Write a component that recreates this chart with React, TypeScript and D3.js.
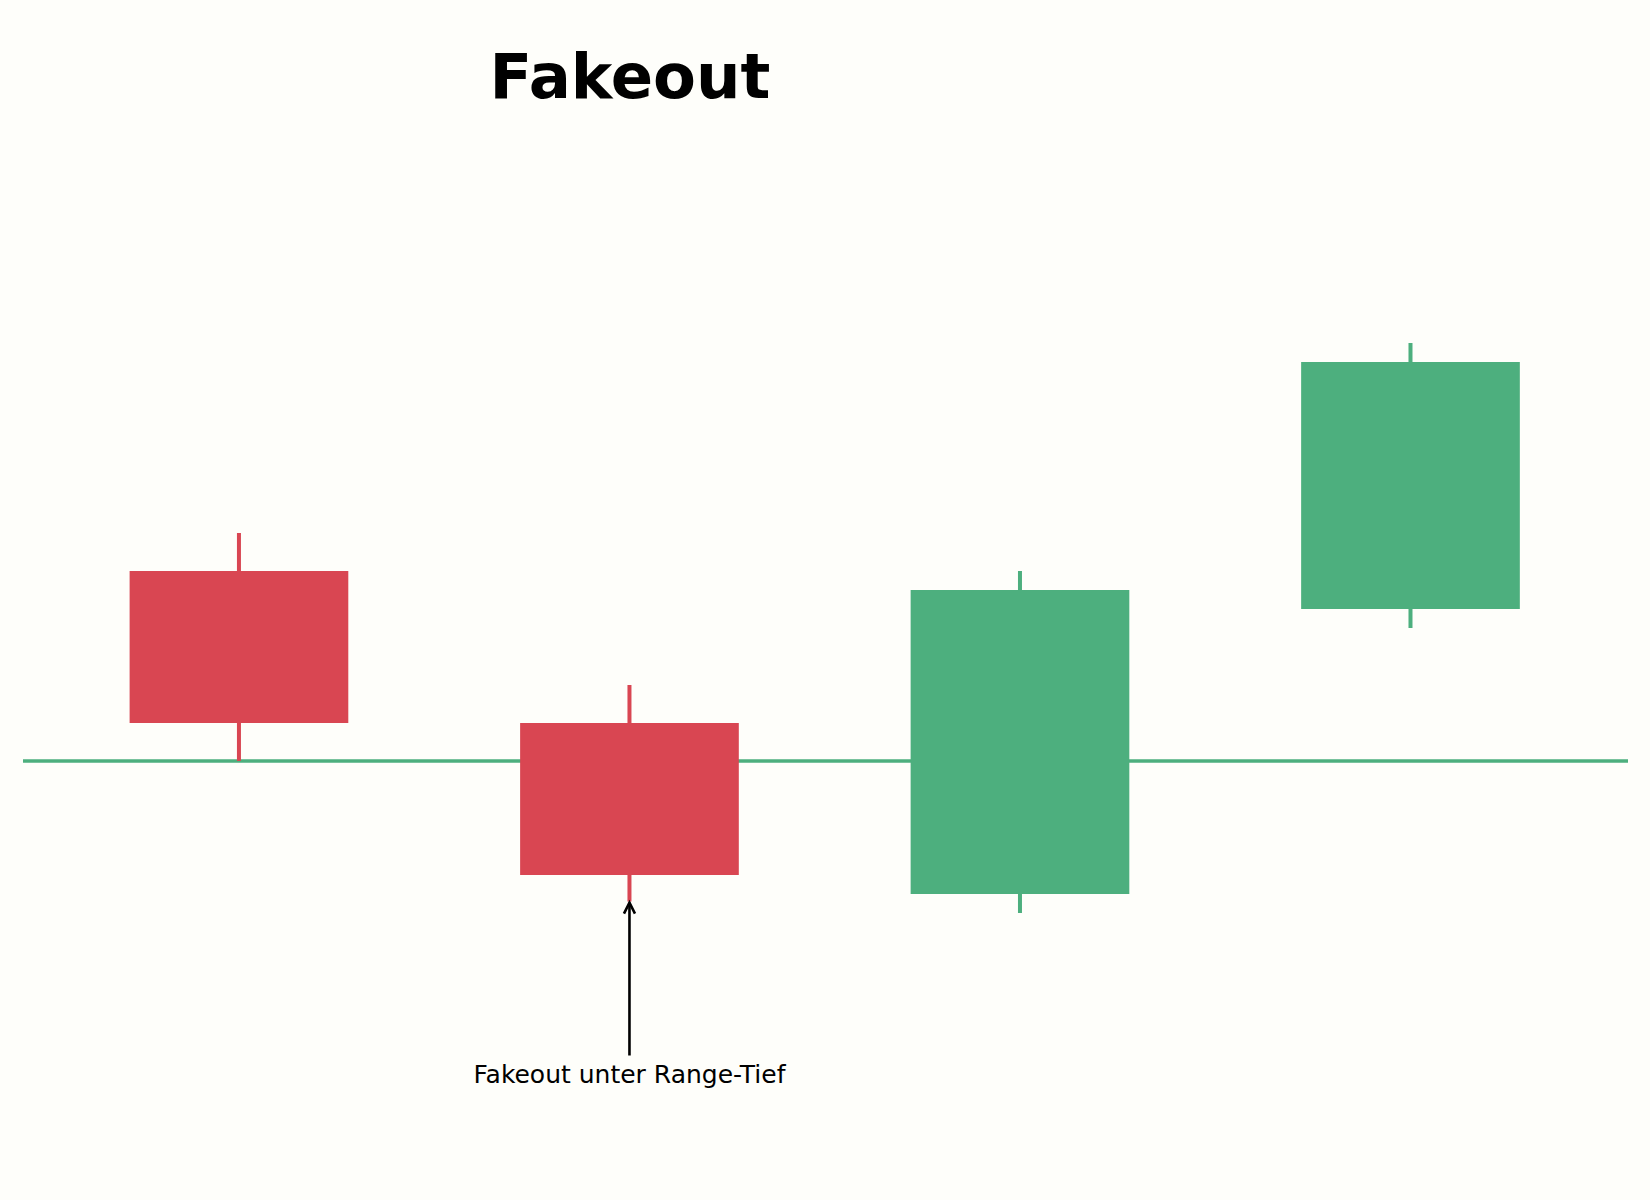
import { useEffect, useRef } from "react";
import * as d3 from "d3";

// candles: index, OHLC
const candleIdx = [0, 1, 2, 3];
const opens = [105, 101, 96.5, 104];
const highs = [106, 102, 105, 111];
const lows = [100, 96.3, 96, 103.5];
const closes = [101, 97, 104.5, 110.5];

const rangeLow = 100;
const title = "Fakeout";
const noteText = "Fakeout unter Range-Tief";
const noteCandle = 1;
const noteTextLevel = 91.53;
const noteTailLevel = 92.25;

const RED = "#d94652";
const GREEN = "#4daf7e";
const BG = "#fefefa";

export default function App() {
  const ref = useRef<SVGSVGElement>(null);
  useEffect(() => {
    document.body.style.margin = "0";
    if (!ref.current) return;
    const svg = d3.select(ref.current);
    svg.selectAll("*").remove();
    const w = 1650;
    const h = 1200;
    svg.attr("viewBox", `0 0 ${w} ${h}`);

    svg.append("rect").attr("width", w).attr("height", h).attr("fill", BG);

    const x = d3.scaleLinear().domain([-0.553, 3.557]).range([23, 1628]);
    const y = d3.scaleLinear().domain([90, 115]).range([1141, 191]);
    const bodyW = x(0.56) - x(0);

    // range low line
    svg.append("line")
      .attr("x1", x(-0.553)).attr("x2", x(3.557))
      .attr("y1", y(rangeLow)).attr("y2", y(rangeLow))
      .attr("stroke", GREEN).attr("stroke-width", 3.3);

    candleIdx.forEach((i) => {
      const up = closes[i] >= opens[i];
      const col = up ? GREEN : RED;
      const cx = x(i);
      svg.append("line")
        .attr("x1", cx).attr("x2", cx)
        .attr("y1", y(highs[i])).attr("y2", y(lows[i]))
        .attr("stroke", col).attr("stroke-width", 4);
      svg.append("rect")
        .attr("x", cx - bodyW / 2).attr("width", bodyW)
        .attr("y", y(Math.max(opens[i], closes[i])))
        .attr("height", Math.abs(y(opens[i]) - y(closes[i])))
        .attr("fill", col);
    });

    // annotation arrow
    const ax = x(noteCandle);
    const tipY = y(lows[noteCandle]) + 1;
    const tailY = y(noteTailLevel);
    svg.append("line")
      .attr("x1", ax).attr("x2", ax)
      .attr("y1", tailY).attr("y2", tipY)
      .attr("stroke", "#000").attr("stroke-width", 2.6);
    svg.append("path")
      .attr("d", `M${ax - 5.5},${tipY + 11} L${ax},${tipY} L${ax + 5.5},${tipY + 11}`)
      .attr("fill", "none").attr("stroke", "#000").attr("stroke-width", 2.6);

    svg.append("text")
      .attr("x", ax).attr("y", y(noteTextLevel))
      .attr("text-anchor", "middle")
      .attr("font-family", "DejaVu Sans").attr("font-size", 25)
      .attr("fill", "#000")
      .text(noteText);

    svg.append("text")
      .attr("x", 630).attr("y", 98)
      .attr("text-anchor", "middle")
      .attr("font-family", "DejaVu Sans").attr("font-weight", "bold").attr("font-size", 62.5)
      .attr("fill", "#000")
      .text(title);
  }, []);
  return <svg ref={ref} width={1650} height={1200} style={{ display: "block" }} />;
}
